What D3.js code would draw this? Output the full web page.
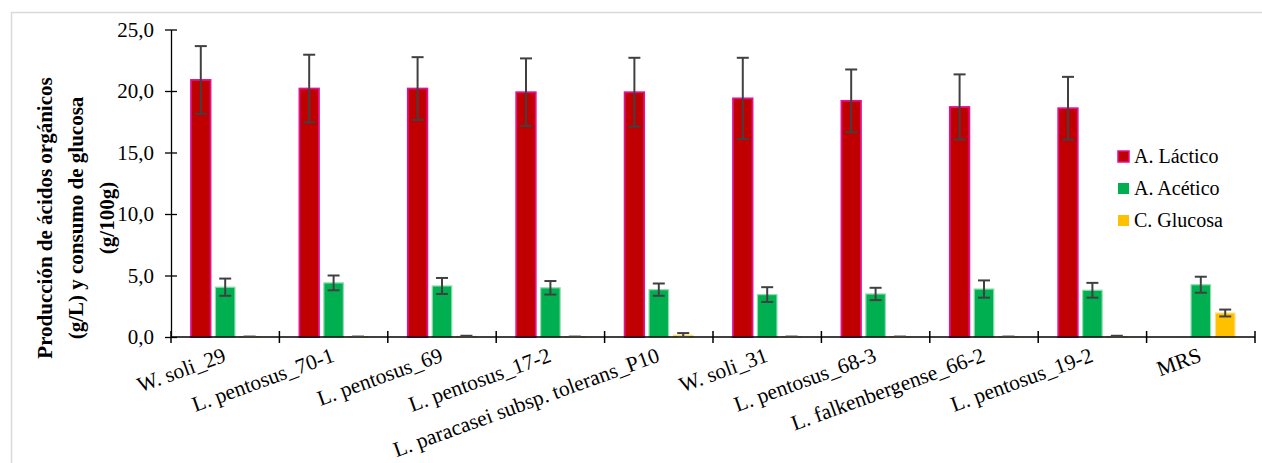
<!DOCTYPE html>
<html><head><meta charset="utf-8">
<script src="https://cdn.jsdelivr.net/npm/d3@7"></script>
<style>html,body{margin:0;padding:0;background:#fff;}svg{display:block;}</style>
</head><body>
<svg id="c" width="1262" height="463"></svg>
<script>
const categories = ["W. soli_29","L. pentosus_70-1","L. pentosus_69","L. pentosus_17-2","L. paracasei subsp. tolerans_P10","W. soli_31","L. pentosus_68-3","L. falkenbergense_66-2","L. pentosus_19-2","MRS"];
const seriesNames = ["A. Láctico","A. Acético","C. Glucosa"];
const lactic     = [20.9, 20.2, 20.2, 19.9, 19.9, 19.4, 19.2, 18.7, 18.6, 0];
const lacticErr  = [2.75, 2.75, 2.55, 2.75, 2.8, 3.3, 2.55, 2.65, 2.55, 0];
const acetic     = [4.05, 4.4, 4.15, 4.0, 3.85, 3.45, 3.5, 3.9, 3.8, 4.25];
const aceticErr  = [0.7, 0.6, 0.65, 0.55, 0.5, 0.6, 0.5, 0.7, 0.6, 0.65];
const glucose    = [0.02, 0.02, 0.05, 0.02, 0.15, 0.02, 0.02, 0.02, 0.05, 1.95];
const glucoseErr = [0, 0, 0.05, 0, 0.17, 0, 0, 0, 0.05, 0.28];
const yTicks = [0, 5, 10, 15, 20, 25];
const yTitle = ["Producción de ácidos orgánicos", "(g/L) y consumo de glucosa", "(g/100g)"];

const fills = ["#C00000", "#00B050", "#FFC000"];
const strokes = ["#E0128F", "#8FDDB0", "#FFE08A"];
const values = [lactic, acetic, glucose];
const errs = [lacticErr, aceticErr, glucoseErr];

const svg = d3.select("#c");
const font = "'Liberation Serif','Times New Roman',serif";

svg.append("rect").attr("x", 11.5).attr("y", 12.5).attr("width", 1300).attr("height", 500)
  .attr("fill", "none").attr("stroke", "#d9d9d9").attr("stroke-width", 1.5);

const L = 171, R = 1255, T = 29.5, B = 337;
const x0 = d3.scaleBand().domain(categories).range([L, R]).paddingInner(0).paddingOuter(0);
const x1 = d3.scaleBand().domain(seriesNames).range([0, x0.bandwidth()]).paddingInner(0.2).paddingOuter(0.82);
const y = d3.scaleLinear().domain([0, 25]).range([B, T]);

// bars
seriesNames.forEach((s, si) => {
  const g = svg.append("g");
  g.selectAll("rect").data(categories).join("rect")
    .attr("x", c => x0(c) + x1(s))
    .attr("y", (c, i) => y(values[si][i]))
    .attr("width", x1.bandwidth())
    .attr("height", (c, i) => B - y(values[si][i]))
    .attr("fill", fills[si])
    .attr("stroke", strokes[si])
    .attr("stroke-width", si === 0 ? 1.8 : 1.2);
});

// axes
const yAxis = d3.axisLeft(y).tickValues(yTicks).tickSize(0).tickPadding(17)
  .tickFormat(d => d3.format(".1f")(d).replace(".", ","));
const gy = svg.append("g").attr("transform", `translate(${L},0)`).call(yAxis);
gy.select(".domain").attr("stroke", "#000").attr("stroke-width", 1.3);
gy.selectAll(".tick text").attr("font-family", font).attr("font-size", 21).attr("fill", "#000");
gy.selectAll(".tick").append("line").attr("x1", -6).attr("x2", 6).attr("stroke", "#000").attr("stroke-width", 1.3);

const gx = svg.append("g").attr("transform", `translate(0,${B})`);
gx.append("line").attr("x1", L).attr("x2", R).attr("stroke", "#000").attr("stroke-width", 1.5);
const tickPos = categories.map(c => x0(c)).concat([R]);
gx.selectAll("line.t").data(tickPos).join("line").attr("class", "t")
  .attr("x1", d => d).attr("x2", d => d).attr("y1", -6).attr("y2", 6)
  .attr("stroke", "#000").attr("stroke-width", 1.5);
gx.selectAll("text").data(categories).join("text")
  .attr("transform", c => `translate(${x0(c) + x0.bandwidth() / 2 + 2},${24}) rotate(-20)`)
  .attr("text-anchor", "end")
  .attr("font-family", font).attr("font-size", 21.5).attr("fill", "#000")
  .text(c => c);

// error bars
seriesNames.forEach((s, si) => {
  const g = svg.append("g").attr("stroke", "#404040").attr("stroke-width", 2).attr("fill", "none");
  categories.forEach((c, i) => {
    const cx = x0(c) + x1(s) + x1.bandwidth() / 2;
    const v = values[si][i], e = errs[si][i];
    const yt = y(v + e), yb = y(Math.max(0, v - e));
    if (e > 0) g.append("line").attr("x1", cx).attr("x2", cx).attr("y1", yt).attr("y2", yb);
    g.append("line").attr("x1", cx - 6).attr("x2", cx + 6).attr("y1", yt).attr("y2", yt);
    g.append("line").attr("x1", cx - 6).attr("x2", cx + 6).attr("y1", yb).attr("y2", yb);
  });
});

// y title
const tt = svg.append("text").attr("transform", "translate(0,218) rotate(-90)")
  .attr("text-anchor", "middle").attr("font-family", font).attr("font-size", 21)
  .attr("font-weight", "bold").attr("fill", "#000");
yTitle.forEach((t, i) => {
  tt.append("tspan").attr("x", 0).attr("y", 52 + i * 31).text(t);
});

// legend
const lg = svg.append("g").attr("transform", "translate(1118,151)");
seriesNames.forEach((s, i) => {
  const r = lg.append("g").attr("transform", `translate(0,${i * 32})`);
  r.append("rect").attr("width", 11).attr("height", 11).attr("fill", fills[i])
    .attr("stroke", i === 0 ? strokes[0] : "none").attr("stroke-width", 1.5);
  r.append("text").attr("x", 16).attr("y", 12).attr("font-family", font)
    .attr("font-size", 20).attr("fill", "#000").text(s);
});
</script>
</body></html>
